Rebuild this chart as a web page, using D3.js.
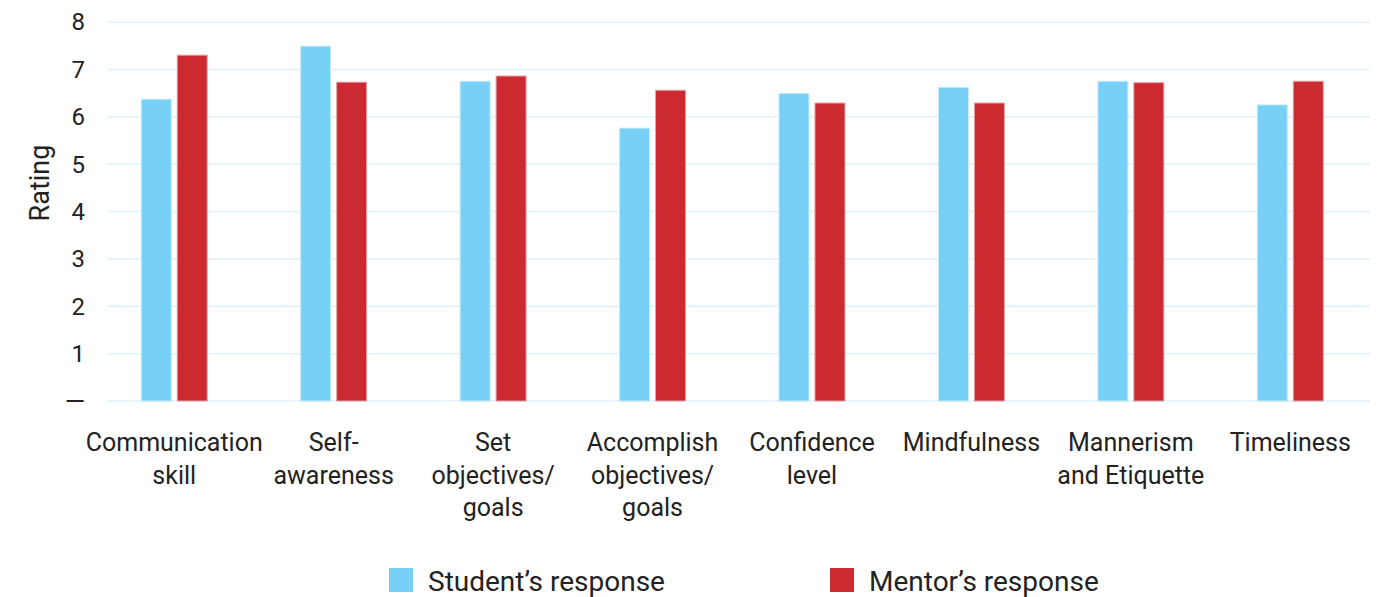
<!DOCTYPE html>
<html>
<head>
<meta charset="utf-8">
<script src="https://cdn.jsdelivr.net/npm/d3@7"></script>
<style>
  body { margin: 0; background: #fff; }
  text { font-family: Roboto, "Noto Sans", sans-serif; fill: #222; }
</style>
</head>
<body>
<svg id="chart" width="1385" height="597"></svg>
<script>
'use strict';

var categories = [
  ['Communication', 'skill'],
  ['Self-', 'awareness'],
  ['Set', 'objectives/', 'goals'],
  ['Accomplish', 'objectives/', 'goals'],
  ['Confidence', 'level'],
  ['Mindfulness'],
  ['Mannerism', 'and Etiquette'],
  ['Timeliness']
]
var studentValues = [6.37, 7.49, 6.75, 5.76, 6.49, 6.62, 6.75, 6.25]
var mentorValues = [7.30, 6.73, 6.86, 6.56, 6.29, 6.29, 6.72, 6.75]
var seriesNames = ["Student\u2019s response", "Mentor\u2019s response"]
var seriesColors = ['#77d0f5', '#cb2a31']
var yTicks = [0, 1, 2, 3, 4, 5, 6, 7, 8]

var svg = d3.select('#chart')

var x = d3.scaleBand().domain(d3.range(categories.length)).range([94.5, 1370])
,   y = d3.scaleLinear().domain([0, 8]).range([401, 22])
,   barW = 30
,   gap = 6

// grid
svg.append('g').selectAll('line')
  .data(yTicks)
  .enter().append('line')
  .attr('x1', 107).attr('x2', 1370)
  .attr('y1', (d) => y(d)).attr('y2', (d) => y(d))
  .attr('stroke', '#dff1fa')
  .attr('stroke-width', 1.5)

// y labels
svg.append('g').selectAll('text')
  .data(yTicks)
  .enter().append('text')
  .attr('x', 85)
  .attr('y', (d) => y(d))
  .attr('dy', '0.35em')
  .attr('text-anchor', 'end')
  .style('font-size', d => d === 0 ? '26px' : '24px')
  .text((d) => d === 0 ? '\u2014' : d)

svg.append('text')
  .attr('transform', 'translate(49,' + 183 + ') rotate(-90)')
  .attr('text-anchor', 'middle')
  .style('font-size', '27px')
  .text('Rating')

// bars
var groups = svg.append('g').selectAll('g')
  .data(categories)
  .enter().append('g')
  .attr('transform', (d, i) => 'translate(' + (x(i) + x.bandwidth() / 2) + ',0)')

groups.append('rect')
  .attr('x', -gap / 2 - barW)
  .attr('y', (d, i) => y(studentValues[i]))
  .attr('width', barW)
  .attr('height', (d, i) => y(0) - y(studentValues[i]))
  .attr('fill', seriesColors[0])
  .attr('stroke', '#c4ecfb')
  .attr('stroke-width', 1)

groups.append('rect')
  .attr('x', gap / 2)
  .attr('y', (d, i) => y(mentorValues[i]))
  .attr('width', barW)
  .attr('height', (d, i) => y(0) - y(mentorValues[i]))
  .attr('fill', seriesColors[1])
  .attr('stroke', '#e6a3a6')
  .attr('stroke-width', 1)

// category labels
groups.append('text')
  .attr('text-anchor', 'middle')
  .style('font-size', '25px')
  .selectAll('tspan')
  .data((d) => d)
  .enter().append('tspan')
  .attr('x', 0)
  .attr('y', (d, j) => 451 + j * 32.5)
  .text((d) => d)

// legend
var legendX = [389, 830]
var legend = svg.append('g').selectAll('g')
  .data(seriesNames)
  .enter().append('g')
  .attr('transform', (d, i) => 'translate(' + legendX[i] + ',568)')

legend.append('rect')
  .attr('width', 24).attr('height', 24)
  .attr('fill', (d, i) => seriesColors[i])

legend.append('text')
  .attr('x', 39)
  .attr('y', 23)
  .style('font-size', '28px')
  .text((d) => d)
</script>
</body>
</html>
